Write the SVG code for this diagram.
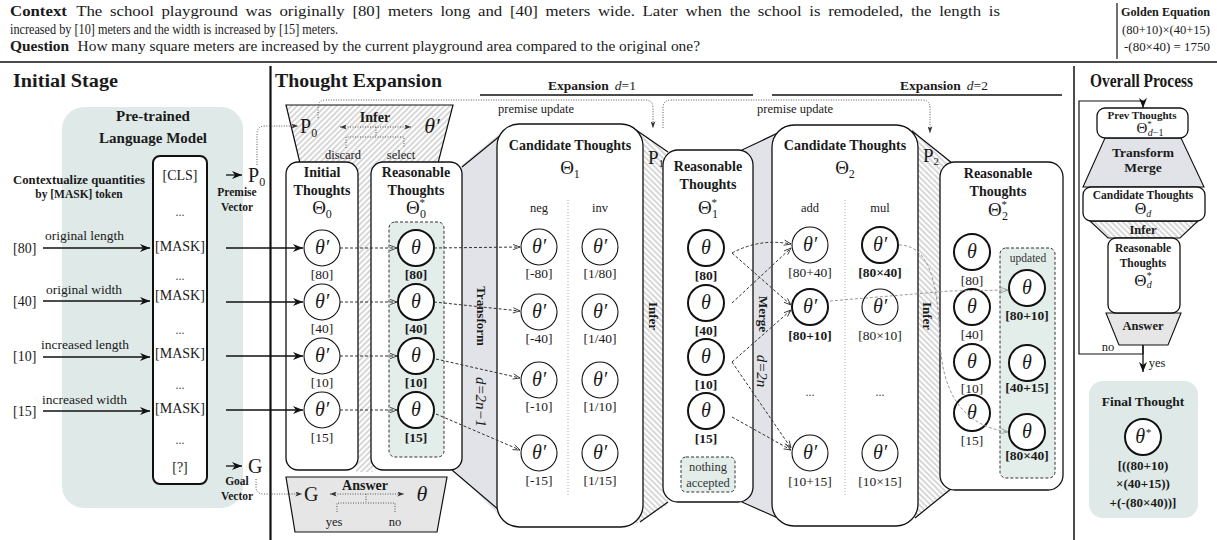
<svg xmlns="http://www.w3.org/2000/svg" width="1217" height="540" viewBox="0 0 1217 540">
<defs>
<style>
text{font-family:"Liberation Serif","Times New Roman",serif;fill:#1a1a1a}
.b{font-weight:bold}
.i{font-style:italic}
.c{text-anchor:middle}
.ctx{font-size:14.5px}
.h{font-size:18px;font-weight:bold}
.bt{font-size:14px;font-weight:bold;text-anchor:middle}
.lab{font-size:13.5px;text-anchor:middle}
.labB{font-size:13.5px;font-weight:bold;text-anchor:middle}
.th{font-size:20px;font-style:italic;text-anchor:middle}
.Th{font-size:19px;text-anchor:middle}
.sm{font-size:12.5px;text-anchor:middle}
.dots{font-size:12px;text-anchor:middle;fill:#444}
.circ{fill:#fff;stroke:#111;stroke-width:1.1}
.circB{fill:#fff;stroke:#111;stroke-width:2}
.box{fill:#fff;stroke:#111;stroke-width:1.3}
.dash{fill:none;stroke:#333;stroke-width:1;stroke-dasharray:3 2;marker-end:url(#oh)}
.dot{fill:none;stroke:#555;stroke-width:1;stroke-dasharray:1 1.5}
.dotA{fill:none;stroke:#555;stroke-width:1;stroke-dasharray:1 1.5;marker-end:url(#dh)}
.dotAA{fill:none;stroke:#555;stroke-width:1;stroke-dasharray:1 1.5;marker-end:url(#dh);marker-start:url(#dh)}
.sol{fill:none;stroke:#111;stroke-width:1.3;marker-end:url(#ah)}
.gdash{fill:none;stroke:#9a9a9a;stroke-width:1;stroke-dasharray:3 2;marker-end:url(#gh)}
.rot{font-size:13px;font-weight:bold;text-anchor:middle}
.edge{fill:none;stroke:#111;stroke-width:1.2}
.gray{fill:#e2e3e8}
.panel{fill:#dfe9e8}
.sel{fill:#e3eeeb;stroke:#333;stroke-width:1;stroke-dasharray:3 2}
</style>
<pattern id="hA" patternUnits="userSpaceOnUse" width="4" height="4" patternTransform="rotate(45)"><rect width="4" height="4" fill="#fff"/><line x1="1" y1="0" x2="1" y2="4" stroke="#9a9a9a" stroke-width="0.8"/></pattern>
<pattern id="hB" patternUnits="userSpaceOnUse" width="4" height="4" patternTransform="rotate(-45)"><rect width="4" height="4" fill="#fff"/><line x1="1" y1="0" x2="1" y2="4" stroke="#9a9a9a" stroke-width="0.8"/></pattern>
<marker id="ah" viewBox="0 0 10 8" refX="10" refY="4" markerWidth="10" markerHeight="8" markerUnits="userSpaceOnUse" orient="auto"><path d="M0,0 L10,4 L0,8 L3,4 z" fill="#111"/></marker>
<marker id="oh" viewBox="0 0 10 8" refX="9" refY="4" markerWidth="9" markerHeight="7" markerUnits="userSpaceOnUse" orient="auto"><path d="M1,1 L9,4 L1,7" fill="none" stroke="#333" stroke-width="1"/></marker>
<marker id="gh" viewBox="0 0 10 8" refX="9" refY="4" markerWidth="9" markerHeight="7" markerUnits="userSpaceOnUse" orient="auto"><path d="M1,1 L9,4 L1,7" fill="none" stroke="#9a9a9a" stroke-width="1"/></marker>
<marker id="dh" viewBox="0 0 8 6" refX="8" refY="3" markerWidth="7" markerHeight="5" markerUnits="userSpaceOnUse" orient="auto-start-reverse"><path d="M0,0 L8,3 L0,6 L2,3 z" fill="#333"/></marker>
</defs>
<rect width="1217" height="540" fill="#fff"/>

<g id="header">
<text x="10" y="16" class="ctx" style="word-spacing:3px" textLength="990" lengthAdjust="spacingAndGlyphs"><tspan class="b">Context</tspan><tspan dx="8">The school playground was originally [80] meters long and [40] meters wide. Later when the school is remodeled, the length is</tspan></text>
<text x="10" y="34" class="ctx" textLength="328" lengthAdjust="spacingAndGlyphs">increased by [10] meters and the width is increased by [15] meters.</text>
<text x="10" y="51" class="ctx" textLength="690" lengthAdjust="spacingAndGlyphs"><tspan class="b">Question</tspan><tspan dx="8">How many square meters are increased by the current playground area compared to the original one?</tspan></text>
<line x1="1117" y1="3" x2="1117" y2="59" stroke="#111" stroke-width="1.2"/>
<text x="1121" y="16" class="b" style="font-size:12.5px" textLength="89" lengthAdjust="spacingAndGlyphs">Golden Equation</text>
<text x="1122" y="34" style="font-size:13px" textLength="88" lengthAdjust="spacingAndGlyphs">(80+10)×(40+15)</text>
<text x="1124" y="51" style="font-size:13px" textLength="86" lengthAdjust="spacingAndGlyphs">-(80×40) = 1750</text>
<line x1="0" y1="62" x2="1217" y2="62" stroke="#111" stroke-width="1.5"/>
<text x="13" y="87" class="h" textLength="105" lengthAdjust="spacingAndGlyphs">Initial Stage</text>
<text x="275" y="87" class="h" textLength="167" lengthAdjust="spacingAndGlyphs">Thought Expansion</text>
<text x="1090" y="87" class="h" textLength="103" lengthAdjust="spacingAndGlyphs">Overall Process</text>
<line x1="270.5" y1="66" x2="270.5" y2="540" stroke="#111" stroke-width="2.2"/>
<line x1="1074" y1="66" x2="1074" y2="540" stroke="#111" stroke-width="1.5"/>
<text x="548" y="90" style="font-size:13.5px"><tspan class="b">Expansion</tspan><tspan dx="6" class="i">d</tspan>=1</text>
<line x1="480" y1="95" x2="753" y2="95" stroke="#111" stroke-width="1.3"/>
<text x="900" y="90" style="font-size:13.5px"><tspan class="b">Expansion</tspan><tspan dx="6" class="i">d</tspan>=2</text>
<line x1="772" y1="95" x2="1062" y2="95" stroke="#111" stroke-width="1.3"/>
</g>

<g id="plm">
<rect x="62" y="107" width="181" height="401" rx="22" class="panel"/>
<text x="153" y="121" class="bt" style="font-size:15px">Pre-trained</text>
<text x="153" y="143" class="bt" style="font-size:15px">Language Model</text>
<text x="79" y="184" class="b c" style="font-size:11.5px" textLength="132" lengthAdjust="spacingAndGlyphs">Contextualize quantities</text>
<text x="79" y="198" class="b c" style="font-size:11.5px">by [MASK] token</text>
<rect x="153" y="156" width="54" height="328" rx="7" fill="#fff" stroke="#111" stroke-width="2"/>
<text x="180" y="180" class="lab" style="font-size:14px">[CLS]</text>
<text x="180" y="216" class="dots">...</text>
<text x="180" y="251" class="lab" style="font-size:14px">[MASK]</text>
<text x="180" y="280" class="dots">...</text>
<text x="180" y="300" class="lab" style="font-size:14px">[MASK]</text>
<text x="180" y="334" class="dots">...</text>
<text x="180" y="358" class="lab" style="font-size:14px">[MASK]</text>
<text x="180" y="389" class="dots">...</text>
<text x="180" y="413" class="lab" style="font-size:14px">[MASK]</text>
<text x="180" y="444" class="dots">...</text>
<text x="180" y="472" class="lab" style="font-size:14px">[?]</text>
</g>

<g id="inputs">
<text x="13" y="253" style="font-size:14px">[80]</text>
<text x="45" y="240" style="font-size:13.5px">original length</text>
<text x="13" y="306" style="font-size:14px">[40]</text>
<text x="46" y="294" style="font-size:13.5px">original width</text>
<text x="13" y="361" style="font-size:14px">[10]</text>
<text x="41" y="349" style="font-size:13.5px">increased length</text>
<text x="13" y="416" style="font-size:14px">[15]</text>
<text x="42" y="404" style="font-size:13.5px">increased width</text>
<text x="248" y="182" style="font-size:20px">P<tspan font-size="12" dy="4">0</tspan></text>
<text x="237" y="196" class="b c" style="font-size:11.5px">Premise</text>
<text x="237" y="211" class="b c" style="font-size:11.5px">Vector</text>
<text x="248" y="473" style="font-size:20px">G</text>
<text x="237" y="485" class="b c" style="font-size:11.5px">Goal</text>
<text x="237" y="500" class="b c" style="font-size:11.5px">Vector</text>
</g>

<g id="infer0">
<polygon points="286,105 453,105 438,165 300,165" fill="url(#hA)"/>
<rect x="356" y="160" width="17" height="312" fill="url(#hA)"/>
<path d="M300,163 L286,105 L453,105 L438,163" class="edge"/>
<text x="375" y="122" class="bt" style="font-size:14px">Infer</text>
<text x="300" y="133" style="font-size:20px">P<tspan font-size="12" dy="4">0</tspan></text>
<text x="432" y="133" class="th" style="font-size:22px">θ′</text>
<path d="M340,127 L411,127" class="dotAA"/>
<path d="M376,127 V136 M346,148 V137 H404 V148" class="dot"/>
<text x="343" y="159" class="sm">discard</text>
<text x="401" y="159" class="sm">select</text>
</g>

<g id="answer0">
<polygon points="286,477 447,477 437,532 295,532" fill="#e6e6e6" stroke="#111" stroke-width="1.2"/>
<text x="365" y="490" class="bt" style="font-size:14px">Answer</text>
<text x="304" y="501" style="font-size:20px">G</text>
<text x="422" y="501" class="th" style="font-size:22px">θ</text>
<path d="M330,494 L404,494" class="dotAA"/>
<path d="M366,494 V502 M337,512 V503 H395 V512" class="dot"/>
<text x="334" y="526" class="sm">yes</text>
<text x="395" y="526" class="sm">no</text>
</g>

<g id="bands">
<polygon points="456,170 506,128 506,522 452,468" class="gray"/>
<path d="M462,167 L506,131 M452,470 L506,516" class="edge"/>
<polygon points="636,128 668,152 668,505 636,524" fill="url(#hB)"/>
<path d="M636,130 L668,152 M640,522 L668,502" class="edge"/>
<polygon points="745,150 780,130 780,520 745,502" class="gray"/>
<path d="M742,150 L780,132 M742,502 L780,519" class="edge"/>
<polygon points="912,128 952,163 952,490 912,520" fill="url(#hB)"/>
<path d="M912,131 L952,163 M915,518 L952,488" class="edge"/>
<text x="648" y="164" style="font-size:19px">P<tspan font-size="11" dy="3">1</tspan></text>
<text x="923" y="162" style="font-size:19px">P<tspan font-size="11" dy="3">2</tspan></text>
<text transform="translate(481,316) rotate(90)" y="4.5" class="rot">Transform</text>
<text transform="translate(481,402) rotate(90)" y="5" class="i c" style="font-size:15px">d=2n−1</text>
<text transform="translate(653,316) rotate(90)" y="4.5" class="rot">Infer</text>
<text transform="translate(763,314) rotate(90)" y="4.5" class="rot">Merge</text>
<text transform="translate(762,371) rotate(90)" y="5" class="i c" style="font-size:15px">d=2n</text>
<text transform="translate(927,316) rotate(90)" y="4.5" class="rot">Infer</text>
</g>

<g id="theta0">
<rect x="286" y="162" width="72" height="308" rx="12" class="box"/>
<text x="322" y="177" class="bt">Initial</text>
<text x="322" y="195" class="bt">Thoughts</text>
<text x="322" y="214" class="Th">Θ<tspan font-size="12" dy="4">0</tspan></text>
<circle cx="322" cy="248" r="18" class="circ"/><text x="322" y="254" class="th">θ′</text><text x="322" y="279" class="lab">[80]</text>
<circle cx="322" cy="302" r="18" class="circ"/><text x="322" y="308" class="th">θ′</text><text x="322" y="333" class="lab">[40]</text>
<circle cx="322" cy="356" r="18" class="circ"/><text x="322" y="362" class="th">θ′</text><text x="322" y="387" class="lab">[10]</text>
<circle cx="322" cy="410" r="18" class="circ"/><text x="322" y="416" class="th">θ′</text><text x="322" y="442" class="lab">[15]</text>
</g>

<g id="theta0star">
<rect x="371" y="162" width="91" height="308" rx="12" class="box"/>
<text x="416" y="177" class="bt">Reasonable</text>
<text x="416" y="195" class="bt">Thoughts</text>
<text x="416" y="214" class="Th">Θ<tspan font-size="11" dy="-8">*</tspan><tspan font-size="12" dx="-5" dy="12">0</tspan></text>
<rect x="389" y="222" width="55" height="235" rx="6" class="sel"/>
<circle cx="416" cy="248" r="18" class="circB"/><text x="416" y="254" class="th">θ</text><text x="416" y="279" class="labB">[80]</text>
<circle cx="416" cy="302" r="18" class="circB"/><text x="416" y="308" class="th">θ</text><text x="416" y="333" class="labB">[40]</text>
<circle cx="416" cy="356" r="18" class="circB"/><text x="416" y="362" class="th">θ</text><text x="416" y="387" class="labB">[10]</text>
<circle cx="416" cy="410" r="18" class="circB"/><text x="416" y="416" class="th">θ</text><text x="416" y="442" class="labB">[15]</text>
</g>

<g id="theta1">
<rect x="497" y="124" width="146" height="403" rx="22" class="box"/>
<text x="570" y="150" class="bt">Candidate Thoughts</text>
<text x="570" y="174" class="Th">Θ<tspan font-size="12" dy="4">1</tspan></text>
<line x1="568" y1="200" x2="568" y2="497" stroke="#aaa" stroke-dasharray="1 2"/>
<text x="539" y="212" class="sm">neg</text>
<text x="600" y="212" class="sm">inv</text>
<circle cx="539" cy="247" r="18" class="circ"/><text x="539" y="253" class="th">θ′</text><text x="539" y="278" class="lab">[-80]</text>
<circle cx="600" cy="247" r="18" class="circ"/><text x="600" y="253" class="th">θ′</text><text x="600" y="278" class="lab">[1/80]</text>
<circle cx="539" cy="312" r="18" class="circ"/><text x="539" y="318" class="th">θ′</text><text x="539" y="343" class="lab">[-40]</text>
<circle cx="600" cy="312" r="18" class="circ"/><text x="600" y="318" class="th">θ′</text><text x="600" y="343" class="lab">[1/40]</text>
<circle cx="539" cy="380" r="18" class="circ"/><text x="539" y="386" class="th">θ′</text><text x="539" y="411" class="lab">[-10]</text>
<circle cx="600" cy="380" r="18" class="circ"/><text x="600" y="386" class="th">θ′</text><text x="600" y="411" class="lab">[1/10]</text>
<circle cx="539" cy="453" r="18" class="circ"/><text x="539" y="459" class="th">θ′</text><text x="539" y="485" class="lab">[-15]</text>
<circle cx="600" cy="453" r="18" class="circ"/><text x="600" y="459" class="th">θ′</text><text x="600" y="485" class="lab">[1/15]</text>
</g>

<g id="theta1star">
<rect x="663" y="150" width="90" height="352" rx="15" class="box"/>
<text x="708" y="171" class="bt">Reasonable</text>
<text x="708" y="189" class="bt">Thoughts</text>
<text x="708" y="214" class="Th">Θ<tspan font-size="11" dy="-8">*</tspan><tspan font-size="12" dx="-5" dy="12">1</tspan></text>
<circle cx="706" cy="248" r="18" class="circB"/><text x="706" y="254" class="th">θ</text><text x="706" y="280" class="labB">[80]</text>
<circle cx="706" cy="303" r="18" class="circB"/><text x="706" y="309" class="th">θ</text><text x="706" y="335" class="labB">[40]</text>
<circle cx="706" cy="357" r="18" class="circB"/><text x="706" y="363" class="th">θ</text><text x="706" y="389" class="labB">[10]</text>
<circle cx="706" cy="411" r="18" class="circB"/><text x="706" y="417" class="th">θ</text><text x="706" y="443" class="labB">[15]</text>
<rect x="681" y="457" width="54" height="35" rx="5" class="sel"/>
<text x="708" y="471" class="c" style="font-size:12.5px;fill:#333">nothing</text>
<text x="708" y="487" class="c" style="font-size:12.5px;fill:#333">accepted</text>
</g>

<g id="theta2">
<rect x="772" y="125" width="146" height="401" rx="22" class="box"/>
<text x="845" y="150" class="bt">Candidate Thoughts</text>
<text x="845" y="174" class="Th">Θ<tspan font-size="12" dy="4">2</tspan></text>
<line x1="845" y1="200" x2="845" y2="497" stroke="#aaa" stroke-dasharray="1 2"/>
<text x="810" y="212" class="sm">add</text>
<text x="880" y="212" class="sm">mul</text>
<circle cx="810" cy="245" r="18" class="circ"/><text x="810" y="251" class="th">θ′</text><text x="810" y="277" class="lab">[80+40]</text>
<circle cx="880" cy="245" r="18" class="circB"/><text x="880" y="251" class="th">θ′</text><text x="880" y="277" class="labB">[80×40]</text>
<circle cx="810" cy="307" r="18" class="circB"/><text x="810" y="313" class="th">θ′</text><text x="810" y="340" class="labB">[80+10]</text>
<circle cx="880" cy="307" r="18" class="circ"/><text x="880" y="313" class="th">θ′</text><text x="880" y="340" class="lab">[80×10]</text>
<text x="810" y="396" class="dots">...</text>
<text x="880" y="396" class="dots">...</text>
<circle cx="810" cy="453" r="18" class="circ"/><text x="810" y="459" class="th">θ′</text><text x="810" y="486" class="lab">[10+15]</text>
<circle cx="880" cy="453" r="18" class="circ"/><text x="880" y="459" class="th">θ′</text><text x="880" y="486" class="lab">[10×15]</text>
</g>

<g id="theta2star">
<rect x="940" y="162" width="123" height="328" rx="15" class="box"/>
<text x="998" y="178" class="bt">Reasonable</text>
<text x="998" y="196" class="bt">Thoughts</text>
<text x="998" y="216" class="Th">Θ<tspan font-size="11" dy="-8">*</tspan><tspan font-size="12" dx="-5" dy="12">2</tspan></text>
<rect x="1000" y="248" width="55" height="230" rx="6" class="sel"/>
<text x="1028" y="262" class="c" style="font-size:11.5px;fill:#333">updated</text>
<circle cx="972" cy="252" r="18" class="circB"/><text x="972" y="258" class="th">θ</text><text x="972" y="285" class="lab">[80]</text>
<circle cx="972" cy="307" r="18" class="circB"/><text x="972" y="313" class="th">θ</text><text x="972" y="339" class="lab">[40]</text>
<circle cx="972" cy="362" r="18" class="circB"/><text x="972" y="368" class="th">θ</text><text x="972" y="393" class="lab">[10]</text>
<circle cx="972" cy="413" r="18" class="circB"/><text x="972" y="419" class="th">θ</text><text x="972" y="445" class="lab">[15]</text>
<circle cx="1027" cy="288" r="18" class="circB"/><text x="1027" y="294" class="th">θ</text><text x="1027" y="320" class="labB">[80+10]</text>
<circle cx="1027" cy="363" r="18" class="circB"/><text x="1027" y="369" class="th">θ</text><text x="1027" y="392" class="labB">[40+15]</text>
<circle cx="1027" cy="432" r="18" class="circB"/><text x="1027" y="438" class="th">θ</text><text x="1027" y="460" class="labB">[80×40]</text>
</g>

<g id="overall">
<path d="M1143,345 V354 H1079 V101 H1143 V108" fill="none" stroke="#111" stroke-width="1.2" marker-end="url(#ah)"/>
<path d="M1143,345 V372" class="sol" stroke-width="1.2"/>
<text x="1108" y="351" class="sm">no</text>
<text x="1157" y="367" class="sm">yes</text>
<polygon points="1105,138 1181,138 1204,187 1083,187" fill="#e2e3e8" stroke="#111" stroke-width="1.1"/>
<polygon points="1090,221 1198,221 1180,238 1108,238" fill="url(#hB)" stroke="#111" stroke-width="1.1"/>
<polygon points="1106,313 1181,313 1168,345 1119,345" fill="#e6e6e6" stroke="#111" stroke-width="1.1"/>
<rect x="1097" y="108" width="91" height="30" rx="8" class="box"/>
<text x="1142" y="119" class="b c" style="font-size:11px">Prev Thoughts</text>
<text x="1150" y="133" class="Th" style="font-size:15px">Θ<tspan font-size="9" dy="-6">*</tspan><tspan font-size="10" class="i" dx="-4" dy="9">d</tspan><tspan font-size="10">−1</tspan></text>
<text x="1143" y="157" class="b c" style="font-size:13.5px">Transform</text>
<text x="1143" y="172" class="b c" style="font-size:13.5px">Merge</text>
<rect x="1083" y="187" width="122" height="34" rx="8" class="box"/>
<text x="1143" y="199" class="b c" style="font-size:11.5px">Candidate Thoughts</text>
<text x="1143" y="214" class="Th" style="font-size:16px">Θ<tspan font-size="10" class="i" dy="3">d</tspan></text>
<text x="1143" y="234" class="b c" style="font-size:12.5px">Infer</text>
<rect x="1108" y="238" width="72" height="75" rx="8" class="box"/>
<text x="1143" y="252" class="b c" style="font-size:11.5px">Reasonable</text>
<text x="1143" y="267" class="b c" style="font-size:11.5px">Thoughts</text>
<text x="1143" y="286" class="Th" style="font-size:17px">Θ<tspan font-size="10" dy="-7">*</tspan><tspan font-size="10" class="i" dx="-5" dy="9">d</tspan></text>
<text x="1143" y="330" class="b c" style="font-size:12.5px">Answer</text>
</g>

<g id="final">
<rect x="1089" y="381" width="109" height="137" rx="14" class="panel"/>
<text x="1143" y="406" class="b c" style="font-size:13.5px">Final Thought</text>
<circle cx="1143" cy="437" r="18" class="circB"/>
<text x="1143" y="443" class="th">θ<tspan font-size="11" dy="-7">*</tspan></text>
<text x="1143" y="470" class="b c" style="font-size:13px">[((80+10)</text>
<text x="1143" y="488" class="b c" style="font-size:13px">×(40+15))</text>
<text x="1143" y="507" class="b c" style="font-size:13px">+(-(80×40))]</text>
</g>

<g id="connectors">
<path d="M226,175 H242" class="sol"/>
<path d="M226,466 H242" class="sol"/>
<path d="M43,248 H150" class="sol"/>
<path d="M43,301 H150" class="sol"/>
<path d="M43,357 H150" class="sol"/>
<path d="M43,411 H150" class="sol"/>
<path d="M226,248 H303" class="sol"/>
<path d="M226,302 H303" class="sol"/>
<path d="M226,356 H303" class="sol"/>
<path d="M226,410 H303" class="sol"/>
<path d="M257,165 V134 Q257,126 265,126 H298" class="dotA"/>
<path d="M256,479 V487 Q256,494 264,494 H302" class="dotA"/>
<path d="M318,118 V108 Q318,100 326,100 H645 Q653,100 653,108 V128" class="dotA"/>
<path d="M663,128 V108 Q663,100 671,100 H922 Q930,100 930,108 V133" class="dotA"/>
<text x="498" y="113" style="font-size:12.5px">premise update</text>
<text x="795" y="113" class="c" style="font-size:12.5px">premise update</text>
<path d="M340,248 H397" class="dash"/>
<path d="M340,302 H397" class="dash"/>
<path d="M340,356 H397" class="dash"/>
<path d="M340,410 H397" class="dash"/>
<path d="M434,248 L520,247" class="dash"/>
<path d="M434,302 L520,311" class="dash"/>
<path d="M436,359 L520,378" class="dash"/>
<path d="M436,414 L520,450" class="dash"/>
<path d="M732,253 Q760,238 791,244" class="dash"/>
<path d="M732,303 L791,248" class="dash"/>
<path d="M732,253 L791,305" class="dash"/>
<path d="M732,362 L791,310" class="dash"/>
<path d="M732,362 L791,448" class="dash"/>
<path d="M732,417 L791,450" class="dash"/>
<path d="M830,301 L950,291 L1008,290" class="gdash"/>
<path d="M899,245 C935,245 938,300 940,340 C942,390 960,425 1008,432" class="gdash"/>
</g>
</svg>
